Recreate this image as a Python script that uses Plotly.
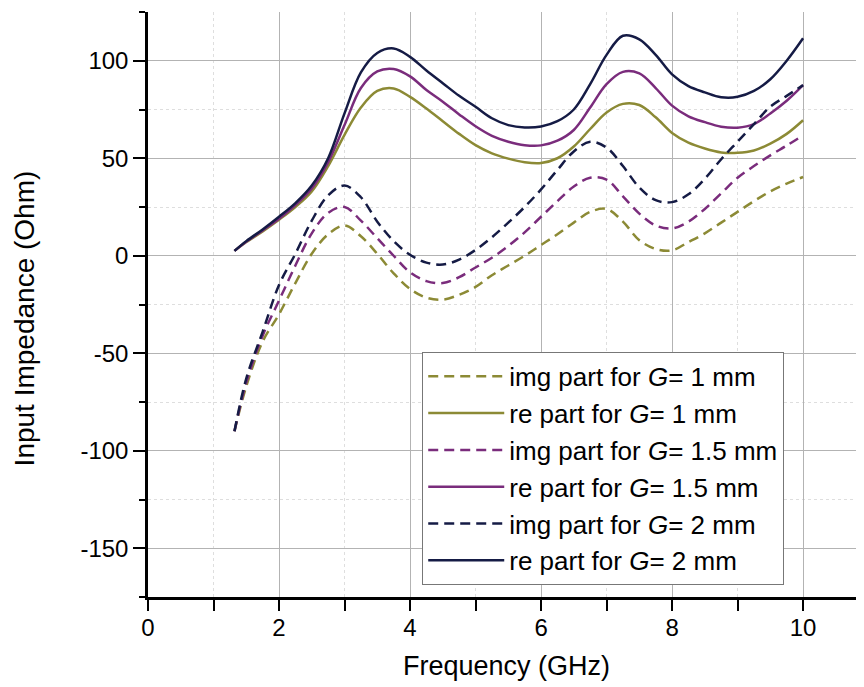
import plotly.graph_objects as go

freq = [1.32, 1.5, 1.75, 2.0, 2.25, 2.5, 2.75, 3.0, 3.25, 3.5, 3.75, 4.0, 4.25, 4.5, 4.75,
        5.0, 5.25, 5.5, 5.75, 6.0, 6.25, 6.5, 6.75, 7.0, 7.25, 7.5, 7.75, 8.0, 8.25, 8.5,
        8.75, 9.0, 9.25, 9.5, 9.75, 10.0]

re_g1 = [2.5, 7, 12.5, 18.5, 25, 33, 46, 62, 76, 84.5, 85.8, 81.5, 75.5, 69, 62.5,
         56.7, 52.5, 49.8, 48, 47.6, 50, 56, 65, 73.5, 77.9, 77.3, 71, 63, 58, 55,
         53, 52.8, 54, 57.5, 62.5, 69.5]
re_g15 = [2.5, 7.2, 13, 19, 26, 34.5, 48, 67, 86, 94.5, 95.8, 92, 85, 79, 72.5,
          66.4, 61.5, 58.5, 56.7, 56.6, 59, 64.5, 76, 88, 94.3, 93.5, 86, 77, 71.5, 68.5,
          66.2, 65.7, 67.5, 73, 79.5, 87.5]
re_g2 = [2.5, 7.5, 13.5, 20, 27, 36, 50, 73, 94, 104, 106.3, 102, 95, 88.5, 82,
         76.4, 70.5, 67, 65.8, 66.3, 69, 75, 88, 103, 112.8, 111, 103, 93, 87, 83.8,
         81.3, 81.5, 84.5, 90.5, 100, 111.5]

im_g1 = [-90, -67, -44, -30, -14, 1, 11, 15.5, 10, 1, -9, -17, -21.5, -22.5, -20,
         -16, -10, -5, 0, 5.5, 11, 17, 22.5, 24, 17.5, 8, 3.5, 2.8, 7, 11.5,
         17, 22.5, 28, 33, 37, 40.4]
im_g15 = [-90, -65, -41, -23, -5, 11.5, 22, 25, 18, 9, 0, -8.5, -13, -14, -11,
          -6, -1, 5, 12, 20, 28, 35.5, 40, 39, 30.5, 21.6, 15.5, 14, 17.5, 24,
          32, 40, 46, 51.5, 56.5, 61.8]
im_g2 = [-90, -63, -39, -15, 1, 18, 31, 36, 30, 17.5, 7.5, 0.5, -3.5, -4.5, -2,
         3, 9.5, 17, 25, 34, 44, 53.5, 58.5, 55.5, 46, 35, 28.5, 27.5, 31.5, 39.5,
         49.5, 58.5, 67.5, 76.5, 82, 87.5]

y_tickvals = [-150, -100, -50, 0, 50, 100]
y_ticktext = ["-150", "-100", "-50", "0", "50", "100"]
x_tickvals = [0, 2, 4, 6, 8, 10]
x_ticktext = ["0", "2", "4", "6", "8", "10"]

series = [
    ("img part for <i>G</i>= 1 mm", im_g1, "#8c8a35", "10px,6px"),
    ("re part for <i>G</i>= 1 mm", re_g1, "#8c8a35", "solid"),
    ("img part for <i>G</i>= 1.5 mm", im_g15, "#7a2c7c", "10px,6px"),
    ("re part for <i>G</i>= 1.5 mm", re_g15, "#7a2c7c", "solid"),
    ("img part for <i>G</i>= 2 mm", im_g2, "#151b45", "10px,6px"),
    ("re part for <i>G</i>= 2 mm", re_g2, "#151b45", "solid"),
]

FONT = "Liberation Sans, Arial, sans-serif"

fig = go.Figure()
for name, vals, color, dash in series:
    fig.add_trace(go.Scatter(
        x=freq, y=vals, mode="lines", name=name,
        line=dict(color=color, width=2.5, dash=dash, shape="spline", smoothing=1.0),
    ))

# the page body has an 8px margin, so the figure is 8px smaller than the window
fig.update_layout(
    template="none",
    width=856, height=679,
    margin=dict(l=140, r=0, t=4, b=90, pad=0),
    paper_bgcolor="white", plot_bgcolor="white",
    font=dict(family=FONT, size=24, color="black"),
    showlegend=True,
    legend=dict(
        x=0.383, y=0.419, xanchor="left", yanchor="top",
        bgcolor="white", bordercolor="#777777", borderwidth=1,
        font=dict(family=FONT, size=26, color="black"),
        itemwidth=76, tracegroupgap=0,
    ),
    xaxis=dict(
        range=[0, 10.93], tickmode="array", tickvals=x_tickvals, ticktext=x_ticktext,
        automargin=False, ticklabelstandoff=-4,
        showline=True, linecolor="black", linewidth=2.5, mirror=False,
        ticks="outside", ticklen=11, tickwidth=2, tickcolor="black",
        showgrid=True, gridcolor="#b3b3b3", gridwidth=1,
        zeroline=False,
        tickfont=dict(family=FONT, size=24),
        minor=dict(dtick=1, tick0=0, ticks="outside", ticklen=11, tickwidth=2,
                   tickcolor="black", showgrid=True, gridcolor="#dedede",
                   griddash="dot", gridwidth=1),
    ),
    yaxis=dict(
        range=[-175, 125], tickmode="array", tickvals=y_tickvals, ticktext=y_ticktext,
        automargin=False,
        showline=True, linecolor="black", linewidth=2.5, mirror=False,
        ticks="outside", ticklen=12, tickwidth=2, tickcolor="black",
        showgrid=True, gridcolor="#b3b3b3", gridwidth=1,
        zeroline=False,
        tickfont=dict(family=FONT, size=24),
        minor=dict(dtick=25, tick0=0, ticks="outside", ticklen=6, tickwidth=2,
                   tickcolor="black", showgrid=True, gridcolor="#dedede",
                   griddash="dot", gridwidth=1),
    ),
    annotations=[
        dict(text="Frequency (GHz)", xref="paper", yref="paper", x=0.5, y=-0.118,
             xanchor="center", yanchor="middle", showarrow=False,
             font=dict(family=FONT, size=27)),
        dict(text="Input Impedance (Ohm)", xref="paper", yref="paper", x=-0.172, y=0.476,
             xanchor="center", yanchor="middle", showarrow=False, textangle=-90,
             font=dict(family=FONT, size=28)),
    ],
)

fig.write_html("out.html")
